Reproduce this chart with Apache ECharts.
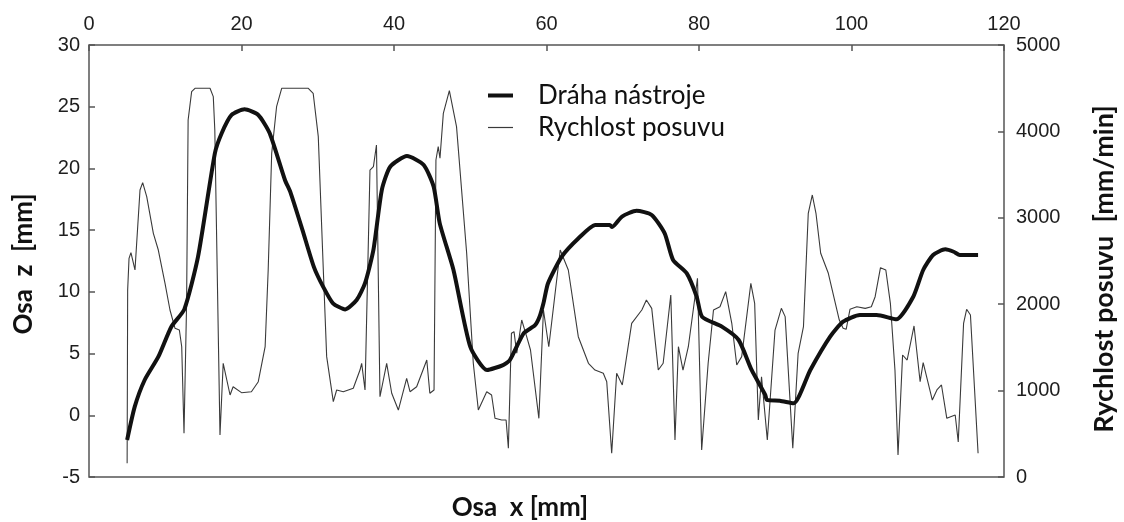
<!DOCTYPE html>
<html>
<head>
<meta charset="utf-8">
<script src="https://cdn.jsdelivr.net/npm/echarts@6/dist/echarts.min.js"></script>
<style>html,body{margin:0;padding:0;background:#fff}#c{width:1124px;height:522px}</style>
</head>
<body>
<div id="c"></div>
<script>
// Tool path (Dráha nástroje): x [mm] vs z [mm], left axis
var pathX = [5.0,6.0,7.3,9.1,10.8,12.5,14.3,16.5,17.4,18.7,20.4,22.2,23.7,25.7,26.4,28.0,29.5,30.7,32.0,33.6,35.1,36.2,37.3,38.4,39.5,41.7,43.9,45.2,46.0,47.8,50.0,52.2,54.3,55.2,57.0,58.5,59.1,59.6,60.2,62.0,64.2,66.4,68.3,68.6,69.9,71.8,73.8,75.5,76.6,78.4,79.7,80.4,83.0,85.2,86.9,88.7,88.9,90.6,92.4,94.6,97.2,98.9,101.1,103.3,105.9,108.1,109.4,110.7,112.3,113.4,114.2,116.6];
var pathZ = [-2.0,0.7,2.86,4.75,7.18,8.58,12.85,21.2,22.85,24.33,24.79,24.33,22.85,19.06,18.1,15.0,12.0,10.42,9.07,8.58,9.34,10.7,13.4,18.25,20.14,21.0,20.28,18.52,15.55,11.77,5.56,3.67,4.07,4.48,6.64,7.3,8.0,9.07,10.69,12.85,14.34,15.42,15.42,15.25,16.1,16.57,16.23,14.74,12.58,11.5,9.6,7.99,7.18,6.1,3.67,1.64,1.24,1.18,0.97,3.67,6.37,7.58,8.13,8.13,7.78,9.6,11.77,12.99,13.45,13.25,12.99,12.99];

// Feed rate (Rychlost posuvu): x [mm] vs mm/min, right axis
var speedX = [5.0,5.07,5.25,5.5,6.03,6.69,7.04,7.57,8.44,9.09,9.97,10.62,11.28,11.85,12.16,12.46,12.8,13.0,13.46,13.9,15.87,16.3,16.5,17.18,17.6,18.5,18.9,20.0,21.3,22.2,23.1,23.5,23.96,24.6,25.27,28.76,29.4,30.07,30.73,31.17,32.04,32.48,33.35,34.66,35.54,35.76,36.2,36.85,37.3,37.7,37.9,38.16,39.04,39.7,40.57,41.66,42.1,42.97,44.3,44.7,45.25,45.5,45.8,46.03,46.47,47.26,48.2,49.53,50.4,51.06,52.16,52.8,53.25,54.12,54.7,55.0,55.4,55.74,56.1,56.75,57.4,57.9,59.0,59.6,60.3,61.8,62.86,64.17,65.5,66.36,67.45,67.9,68.55,69.2,69.94,71.17,72.5,73.1,73.8,74.66,75.3,76.3,76.85,77.3,77.9,78.6,79.8,80.35,81.2,81.9,82.75,83.5,84.3,84.95,85.6,86.8,87.3,87.78,88.2,88.96,89.97,90.8,91.3,92.3,93.0,93.7,94.33,94.86,95.34,95.96,96.96,98.4,98.9,99.3,99.8,100.7,101.8,102.6,103.1,103.8,104.5,105.1,105.7,106.1,106.7,107.3,108.2,109.0,109.4,110.6,111.2,111.8,112.5,113.0,113.6,114.0,114.7,115.1,115.6,116.6];
var speedV = [159,2164,2531,2597,2396,3322,3407,3244,2820,2627,2242,1933,1721,1701,1508,506,2010,4132,4460,4499,4499,4402,4016,486,1316,949,1045,976,987,1103,1508,2396,3746,4286,4499,4499,4441,3939,2396,1393,872,1007,987,1027,1238,1316,1007,3553,3592,3843,3843,929,1316,969,775,1142,987,1045,1354,969,1007,3669,3823,3689,4209,4471,4055,2589,1316,775,987,949,679,660,660,332,1663,1682,1432,1817,1624,1470,679,1933,1508,2627,2396,1624,1316,1238,1200,1103,274,1200,1065,1779,1933,2049,1952,1238,1316,2106,428,1508,1238,1508,2300,312,1316,1933,1971,2145,1779,1296,1393,2242,2010,660,1161,428,1701,1952,1856,332,1432,1740,3052,3264,3052,2589,2358,1817,1721,1709,1941,1971,1952,1971,2087,2423,2396,2010,1238,255,1412,1354,1748,1103,1323,891,1007,1065,679,698,718,405,1779,1941,1875,274];

var xTicks = [0, 20, 40, 60, 80, 100, 120];
var zTicks = [-5, 0, 5, 10, 15, 20, 25, 30];
var vTicks = [0, 1000, 2000, 3000, 4000, 5000];

var seriesNames = ['Dráha nástroje', 'Rychlost posuvu'];
var titleX = 'Osa  x [mm]';
var titleZ = 'Osa  z  [mm]';
var titleV = 'Rychlost posuvu  [mm/min]';

function pairs(a, b) { return a.map(function (v, i) { return [v, b[i]]; }); }
function plain(v) { return String(v); }

var chart = echarts.init(document.getElementById('c'), null, { renderer: 'canvas' });
var tickFont = { color: '#1e1e1e', fontFamily: 'Liberation Sans', fontSize: 20, formatter: plain };
var tickStyle = { inside: true, length: 6, lineStyle: { color: '#555', width: 1.5 } };
var legendText = { fontFamily: 'Lato', fontSize: 26, color: '#111', padding: [0, 0, 0, 20], lineHeight: 29 };
var titleStyle = { font: 'bold 26px Lato', fill: '#111', textAlign: 'center', textVerticalAlign: 'middle', align: 'center', verticalAlign: 'middle' };

chart.setOption({
  animation: false,
  backgroundColor: '#fff',
  grid: { left: 89, right: 120, top: 45, bottom: 45, show: true, borderColor: '#555', borderWidth: 1.5, backgroundColor: 'transparent' },
  legend: [{
    left: 483, top: 76, icon: 'rect', itemWidth: 25, itemHeight: 4,
    data: [seriesNames[0]], textStyle: legendText
  }, {
    left: 483, top: 108, icon: 'rect', itemWidth: 25, itemHeight: 1.2,
    data: [seriesNames[1]], textStyle: legendText
  }],
  xAxis: {
    type: 'value', position: 'top', min: xTicks[0], max: xTicks[xTicks.length - 1], interval: 20,
    axisLine: { show: false, onZero: false }, splitLine: { show: false },
    axisTick: tickStyle,
    axisLabel: Object.assign({ margin: 11 }, tickFont)
  },
  yAxis: [{
    type: 'value', position: 'left', min: zTicks[0], max: zTicks[zTicks.length - 1], interval: 5,
    axisLine: { show: false, onZero: false }, splitLine: { show: false },
    axisTick: tickStyle,
    axisLabel: Object.assign({ margin: 9 }, tickFont)
  }, {
    type: 'value', position: 'right', min: vTicks[0], max: vTicks[vTicks.length - 1], interval: 1000,
    axisLine: { show: false, onZero: false }, splitLine: { show: false },
    axisTick: tickStyle,
    axisLabel: Object.assign({ margin: 12 }, tickFont)
  }],
  graphic: [
    { type: 'text', x: 520, y: 508, style: Object.assign({ text: titleX }, titleStyle) },
    { type: 'text', x: 24, y: 264, rotation: Math.PI / 2, style: Object.assign({ text: titleZ }, titleStyle) },
    { type: 'text', x: 1104, y: 269, rotation: Math.PI / 2, style: Object.assign({ text: titleV }, titleStyle, { font: 'bold 27px Lato' }) }
  ],
  series: [{
    name: seriesNames[0], type: 'line', yAxisIndex: 0, data: pairs(pathX, pathZ),
    showSymbol: false, symbol: 'none', smooth: 0.2, z: 3,
    lineStyle: { color: '#111', width: 4 }, itemStyle: { color: '#111' }
  }, {
    name: seriesNames[1], type: 'line', yAxisIndex: 1, data: pairs(speedX, speedV),
    showSymbol: false, symbol: 'none', smooth: false, z: 2,
    lineStyle: { color: '#3a3a3a', width: 1.1 }, itemStyle: { color: '#3a3a3a' }
  }]
});
</script>
</body>
</html>
